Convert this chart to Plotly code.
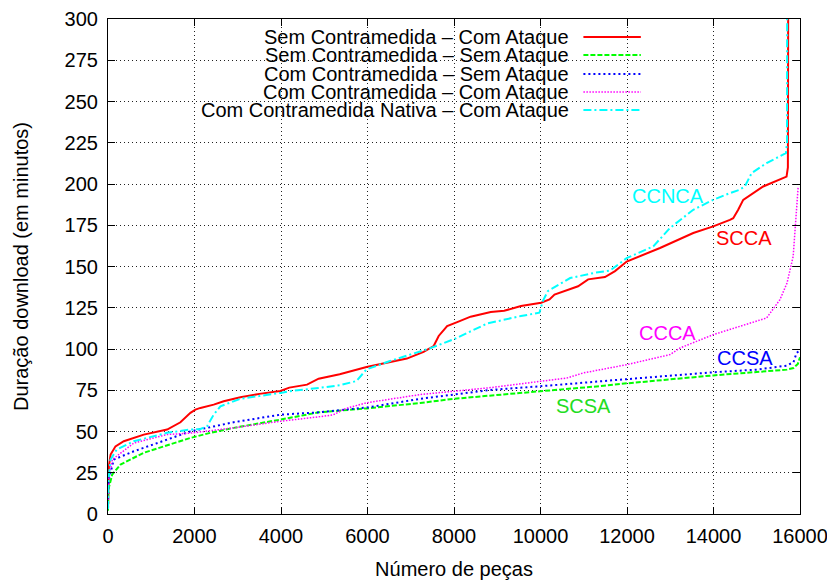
import plotly.graph_objects as go

# Sem Contramedida - Com Ataque (SCCA)
scca_x = [0, 10, 20, 60, 173, 365, 827, 1367, 1675, 1906, 2021, 2137, 2444, 2675, 2984, 3061, 3500,
          3985, 4192, 4602, 4870, 5357, 5978, 6521, 6910, 7297, 7530, 7646, 7841, 8074, 8384, 8850,
          9160, 9548, 10014, 10208, 10324, 10869, 11102, 11490, 11723, 11993, 12763, 13532, 13994,
          14380, 14456, 14571, 14687, 15149, 15689, 15720, 15726]
scca_y = [3, 20, 29, 36, 41, 44.1, 48.1, 51.2, 55.6, 61.3, 63.3, 64.3, 66.3, 68.3, 70.4, 70.7, 72.8,
          74.6, 76.6, 78.4, 82, 84.7, 89.1, 92.1, 94.2, 98.2, 101.8, 107.9, 113.9, 116.3, 119.6, 122.4,
          123.2, 126, 128, 130, 133, 138, 142.2, 143.6, 147.2, 153, 161.2, 170.3, 174.3,
          178.3, 179.3, 184.4, 190.4, 198.5, 204.5, 210, 300]

# Sem Contramedida - Sem Ataque (SCSA)
scsa_x = [0, 10, 97, 289, 827, 1675, 1906, 2368, 2906, 3985, 4870, 5978, 7219, 7988, 8850, 9991,
          11377, 11839, 13994, 15700, 15850, 15950, 16000]
scsa_y = [2, 15, 23.9, 30, 37.1, 44.1, 46.1, 49.2, 52.2, 57.2, 61.6, 64, 67.3, 69.8, 71.6, 74.4,
          77.5, 78.8, 84, 87.5, 88.5, 91, 95]

# Com Contramedida - Sem Ataque (CCSA)
ccsa_x = [0, 10, 134, 596, 1367, 1906, 2906, 3985, 4870, 5978, 7219, 7988, 8850, 9991, 11377, 11839,
          13994, 15000, 15689, 15850, 15920, 15990]
ccsa_y = [3, 20, 33, 38, 45.1, 50.1, 55.6, 60.2, 61.6, 64.5, 69.8, 72.4, 75.2, 77.4, 80.6, 81.4,
          85.9, 87.5, 89.9, 92, 97.6, 99]

# Com Contramedida - Com Ataque (CCCA)
ccca_x = [0, 10, 100, 596, 1367, 1906, 2906, 3985, 4870, 5200, 5500, 5978, 7219, 7988, 8850, 9991,
          10608, 10991, 11377, 11839, 11993, 12994, 13225, 13994, 15228, 15536, 15700, 15842, 15958]
ccca_y = [3, 20, 33, 43, 48.2, 49, 52.2, 56.2, 58.9, 60, 64, 67.4, 72.4, 74.4, 76.6, 80.4,
          82.4, 85.5, 87.5, 89.8, 90.5, 96.6, 100.6, 108.7, 118.8, 129.9, 140, 156.1, 198.5]

# Com Contramedida Nativa - Com Ataque (CCNCA)
ccnca_x = [0, 10, 58, 200, 596, 1367, 1906, 2137, 2291, 2444, 2599, 3061, 3985, 4192, 4870, 5357,
           5745, 5978, 6521, 7142, 7453, 7995, 8772, 9548, 9975, 10053, 10170, 10686, 11257, 11608,
           11993, 12608, 12993, 13532, 13994, 14380, 14600, 14726, 14881, 15228, 15674, 15700, 15703]
ccnca_y = [3, 20, 33, 39, 44.1, 49.2, 51.2, 51.5, 53.2, 60.2, 65.3, 69.8, 73.4, 74.4, 76.4, 78,
           80.6, 87.7, 92.7, 97.8, 100.5, 105.9, 115.5, 120, 122, 129, 135.1, 143, 146.2, 147.5,
           155.1, 162.2, 173.3, 184.4, 190.4, 194.5, 196.5, 198.5, 206.6, 212.7, 218.7, 225, 300]

legend_names = ["Sem Contramedida – Com Ataque", "Sem Contramedida – Sem Ataque",
                "Com Contramedida – Sem Ataque", "Com Contramedida – Com Ataque",
                "Com Contramedida Nativa – Com Ataque"]
short_names = ["SCCA", "SCSA", "CCSA", "CCCA", "CCNCA"]
label_x = [14703, 10984, 14726, 12941, 12941]
label_y = [167.4, 65.7, 94.8, 109.9, 192.8]

x_ticks = list(range(0, 16001, 2000))
y_ticks = list(range(0, 301, 25))

FONT = "Liberation Sans, Arial, sans-serif"
colors = ["#ff0000", "#00ff00", "#0000ff", "#ff00ff", "#00ffff"]
label_colors = ["#ff0000", "#22dd22", "#0000ff", "#ff00ff", "#00ffff"]
dashes = ["solid", "5px,2px", "2px,3px", "1.5px,1.5px", "8px,3px,2px,3px"]
widths = [2, 2, 2, 1.5, 2]

series = [(scca_x, scca_y), (scsa_x, scsa_y), (ccsa_x, ccsa_y), (ccca_x, ccca_y), (ccnca_x, ccnca_y)]

fig = go.Figure()

for (xs, ys), c, d, w in zip(series, colors, dashes, widths):
    fig.add_trace(go.Scatter(
        x=xs, y=ys, mode="lines",
        line=dict(color=c, dash=d, width=w),
        hoverinfo="skip", showlegend=False
    ))

# curve labels
for name, x, y, c in zip(short_names, label_x, label_y, label_colors):
    fig.add_annotation(x=x, y=y, text=name, showarrow=False,
                       font=dict(size=20, color=c, family=FONT))

# gnuplot style key: text right aligned, sample on the right, grid blanked behind it
fig.add_shape(type="rect", xref="paper", yref="paper", x0=0.109, x1=0.783, y0=0.792, y1=1,
              fillcolor="white", line=dict(width=0), layer="between")

row_y = [0.9637, 0.9273, 0.8890, 0.8527, 0.8164]
for name, ry, c, d, w in zip(legend_names, row_y, colors, dashes, widths):
    fig.add_annotation(xref="paper", yref="paper", x=0.668, y=ry, text=name, showarrow=False,
                       xanchor="right", yanchor="middle", borderpad=0,
                       font=dict(size=20, color="black", family=FONT))
    fig.add_shape(type="line", xref="paper", yref="paper", x0=0.687, x1=0.770, y0=ry, y1=ry,
                  line=dict(color=c, dash=d, width=w))

axis_common = dict(
    showline=True, linecolor="black", linewidth=1.2, mirror="allticks",
    ticks="inside", ticklen=7, tickcolor="black",
    showgrid=True, gridcolor="#222222", griddash="1px,3px", gridwidth=1,
    zeroline=False, automargin=False,
    tickfont=dict(size=20, color="black", family=FONT),
)

fig.update_xaxes(range=[0, 16000], tickvals=x_ticks, ticktext=[str(v) for v in x_ticks],
                 title=dict(text="Número de peças", font=dict(size=20, color="black", family=FONT),
                            standoff=15),
                 ticklabelstandoff=4,
                 **axis_common)
fig.update_yaxes(range=[0, 300], tickvals=y_ticks, ticktext=[str(v) for v in y_ticks],
                 title=dict(text="Duração download (em minutos)",
                            font=dict(size=20, color="black", family=FONT), standoff=30),
                 ticklabelstandoff=5,
                 **axis_common)

# the page body has an 8px margin, so the figure is drawn 8px in from the window corner
fig.update_layout(
    width=827, height=573,
    margin=dict(l=99.5, r=35, t=11, b=66.5),
    plot_bgcolor="white", paper_bgcolor="white",
    font=dict(family=FONT, size=20, color="black"),
)

fig.write_html("out.html")
